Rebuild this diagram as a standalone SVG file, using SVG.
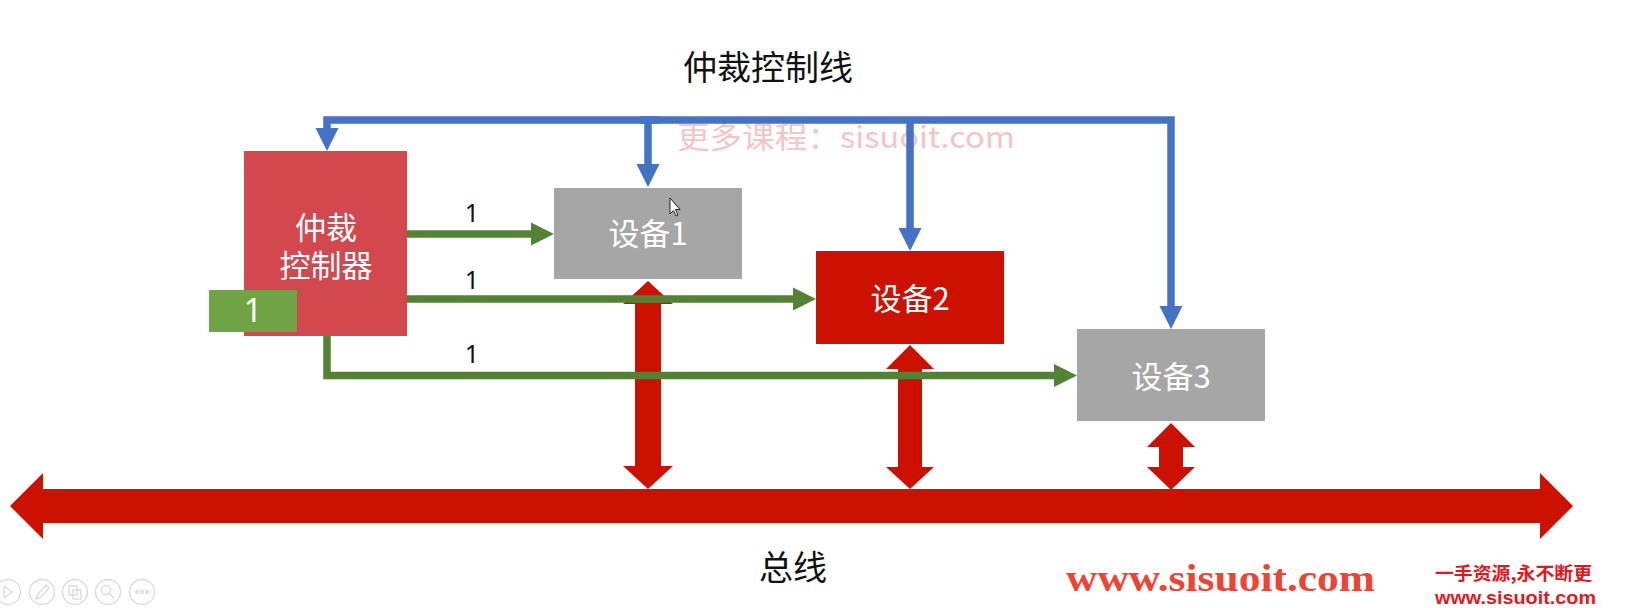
<svg xmlns="http://www.w3.org/2000/svg" width="1631" height="608" viewBox="0 0 1631 608">
<style>
.cjk{font-family:"Noto Sans CJK SC","Noto Sans",sans-serif;}
.lat{font-family:"Noto Sans","Liberation Sans",sans-serif;}
.white{fill:#ffffff;}
.dark{fill:#111111;}
.blue{fill:none;stroke:#4472c4;stroke-width:7.5;stroke-linejoin:miter;marker-end:url(#hb);}
.green{fill:none;stroke:#548235;stroke-width:7.5;stroke-linejoin:miter;marker-end:url(#hg);}
.bus{fill:#cc1100;}
.tb{fill:none;stroke:#d9d9d9;stroke-width:1.3;}
</style>
<defs>
<marker id="hb" markerUnits="userSpaceOnUse" markerWidth="24" markerHeight="24" refX="0" refY="11.5" orient="auto" viewBox="0 0 24 23">
<path d="M0,0 L23,11.5 L0,23 Z" fill="#4472c4"/>
</marker>
<marker id="hg" markerUnits="userSpaceOnUse" markerWidth="24" markerHeight="24" refX="0" refY="11.5" orient="auto" viewBox="0 0 24 23">
<path d="M0,0 L23,11.5 L0,23 Z" fill="#548235"/>
</marker>
</defs>
<rect x="0" y="0" width="1631" height="608" fill="#ffffff"/>

<text id="title" class="cjk dark" x="768" y="80" font-size="34" text-anchor="middle">仲裁控制线</text>

<text id="watermark1" class="cjk" x="677" y="148" font-size="30" fill="#f6c4c4" textLength="338" lengthAdjust="spacingAndGlyphs">更多课程：sisuoit.com</text>

<g id="bus">
<polygon class="bus" points="10,506 43,473 43,489 1540,489 1540,473 1573,506 1540,539 1540,523 43,523 43,539"/>
</g>

<g id="controller">
<rect x="244" y="151" width="163" height="185" fill="#d3474f"/>
<text class="cjk white" font-size="31" text-anchor="middle"><tspan x="326" y="239">仲裁</tspan><tspan x="326" y="277">控制器</tspan></text>
</g>

<g id="grant">
<rect x="209" y="290" width="88" height="42" fill="#6fa344"/>
<text class="lat white" x="253" y="322" font-size="33" text-anchor="middle">1</text>
</g>

<g id="device1">
<rect x="554" y="188" width="188" height="91" fill="#a6a6a6"/>
<text class="cjk white" x="648" y="245" font-size="31" text-anchor="middle">设备1</text>
</g>

<g id="device2">
<rect x="816" y="251" width="188" height="93" fill="#cc1100"/>
<text class="cjk white" x="910" y="310" font-size="31" text-anchor="middle">设备2</text>
</g>

<g id="device3">
<rect x="1077" y="329" width="188" height="92" fill="#a6a6a6"/>
<text class="cjk white" x="1171" y="388" font-size="31" text-anchor="middle">设备3</text>
</g>

<g id="bus-links">
<polygon class="bus" points="648,281 673,304 661,304 661,466 673,466 648,489 623,466 635,466 635,304 623,304"/>
<polygon class="bus" points="910,345 934,369 922,369 922,467 934,467 910,489 886,467 898,467 898,369 886,369"/>
<polygon class="bus" points="1171,423 1195,447 1183,447 1183,467 1195,467 1171,490 1147,467 1159,467 1159,447 1147,447"/>
</g>

<g id="connectors">
<path class="blue" d="M660,120 H327 V128"/>
<path class="blue" d="M640,120 H1171 V306"/>
<path class="blue" d="M648,120 V164"/>
<path class="blue" d="M910,120 V228"/>
<path class="green" d="M407,234 H531"/>
<path class="green" d="M407,299 H793"/>
<path class="green" d="M327,336 V375.5 H1054"/>
<text class="lat dark" x="472" y="222" font-size="25" text-anchor="middle">1</text>
<text class="lat dark" x="472" y="289" font-size="25" text-anchor="middle">1</text>
<text class="lat dark" x="472" y="363" font-size="25" text-anchor="middle">1</text>
</g>

<text id="bus-label" class="cjk dark" x="793" y="580" font-size="34" text-anchor="middle">总线</text>

<g id="cursor">
<path d="M670,198 L670,214 L673.5,210.5 L676,216 L678,215 L675.5,209.5 L680,209.5 Z" fill="#ffffff" stroke="#222222" stroke-width="1"/>
</g>

<g id="toolbar">
<circle class="tb" cx="8" cy="592" r="12.5"/>
<path class="tb" d="M4,586 L4,598 L12,592 Z"/>
<circle class="tb" cx="42" cy="592" r="12.5"/>
<path class="tb" d="M36,599 L38,594 L46,585 L49,588 L41,597 Z"/>
<circle class="tb" cx="75" cy="592" r="12.5"/>
<rect class="tb" x="69" y="586" width="8" height="9"/>
<rect class="tb" x="73" y="590" width="8" height="9"/>
<circle class="tb" cx="108" cy="592" r="12.5"/>
<circle class="tb" cx="106" cy="590" r="4.5"/>
<path class="tb" d="M109,593 L114,598"/>
<circle class="tb" cx="142" cy="592" r="12.5"/>
<circle class="tb" cx="137" cy="592" r="1.5"/>
<circle class="tb" cx="142" cy="592" r="1.5"/>
<circle class="tb" cx="147" cy="592" r="1.5"/>
</g>

<g id="watermarks">
<text x="1066" y="591" font-family="'Liberation Serif',serif" font-weight="bold" font-size="37" fill="#ee4433" textLength="309" lengthAdjust="spacingAndGlyphs">www.sisuoit.com</text>
<text class="cjk" x="1435" y="580" font-size="18" font-weight="bold" fill="#e8151c" textLength="157" lengthAdjust="spacingAndGlyphs">一手资源,永不断更</text>
<text x="1435" y="604" font-family="'Liberation Sans',sans-serif" font-weight="bold" font-size="19" fill="#e8151c" textLength="161" lengthAdjust="spacingAndGlyphs">www.sisuoit.com</text>
</g>
</svg>
